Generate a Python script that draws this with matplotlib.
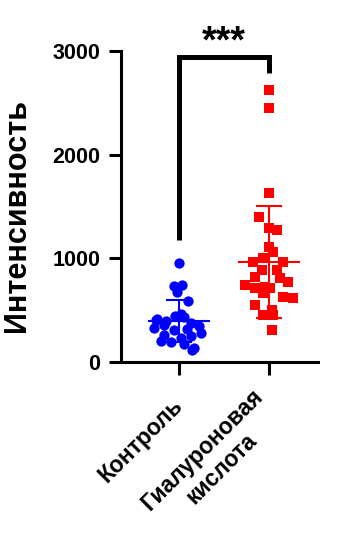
import numpy as np
import matplotlib.pyplot as plt

plt.rcParams['font.family'] = ['Liberation Sans', 'DejaVu Sans']
plt.rcParams['font.weight'] = 'bold'

# groups and tick labels
groups = ['Контроль', 'Гиалуроновая\nкислота']
ylabel = 'Интенсивность'

# values
control = [957, 730, 745, 680, 585, 420, 395, 440, 430, 460, 380, 350, 320,
           310, 360, 260, 230, 250, 280, 190, 170, 200, 140, 120, 330, 405]
control_jit = [0, -0.06, 0.03, -0.02, 0.10, -0.24, -0.14, -0.04, 0.05, 0.02,
               0.13, 0.22, 0.09, -0.06, -0.17, -0.17, 0.02, 0.13, 0.24, -0.09,
               0.06, -0.20, 0.17, 0.14, -0.28, -0.26]
hyaluronic = [2623, 2449, 1633, 1398, 1292, 1273, 1109, 1003, 1061, 964, 964,
              887, 887, 743, 820, 810, 723, 771, 714, 714, 627, 617, 665, 550,
              501, 453, 453, 309]
hyaluronic_jit = [0, 0, 0, -0.11, 0, 0.09, 0, -0.07, 0.04, -0.18, 0.16,
                  -0.08, 0.09, -0.27, -0.16, 0.12, -0.04, 0.21, 0.01, -0.16,
                  0.16, 0.27, -0.07, -0.16, 0.03, -0.07, 0.04, 0.03]

means = [395, 964]
sds = [200, 540]
colors = ['#0000ff', '#ff0000']
markers = ['o', 's']

fig = plt.figure(figsize=(3.42, 5.34), dpi=100)
ax = fig.add_axes([0.354, 0.322, 0.576, 0.5825])

for i, (vals, jit) in enumerate([(control, control_jit), (hyaluronic, hyaluronic_jit)]):
    xs = i + np.array(jit)
    ax.scatter(xs, vals, s=7.4 ** 2, marker=markers[i], color=colors[i],
               linewidths=0, zorder=3, clip_on=False)
    ax.errorbar(i, means[i], yerr=sds[i], color=colors[i], elinewidth=1.5,
                capsize=9.5, capthick=1.5, zorder=4)
    ax.plot([i - 0.33, i + 0.33], [means[i], means[i]], color=colors[i],
            lw=1.5, zorder=4)

# significance bracket
ax.plot([0, 0, 1, 1], [1180, 2940, 2940, 2790], color='black', lw=3.6,
        solid_capstyle='butt', solid_joinstyle='miter', clip_on=False, zorder=5)
ax.text(0.5, 2910, '***', ha='center', va='bottom', fontsize=27,
        fontweight='bold', clip_on=False)

ax.set_xlim(-0.644, 1.544)
ax.set_ylim(0, 3000)
ax.set_yticks([0, 1000, 2000, 3000])
ax.set_xticks([0, 1])
ax.set_xticklabels(groups, rotation=45, ha='right', va='center',
                   rotation_mode='anchor', multialignment='center')
ax.tick_params(axis='y', labelsize=15.5, width=2.2, length=9, pad=6)
ax.tick_params(axis='x', labelsize=16.5, width=2.2, length=9, pad=20)
for lab in ax.get_xticklabels() + ax.get_yticklabels():
    lab.set_fontweight('bold')

ax.set_ylabel(ylabel, fontsize=22, fontweight='bold')
ax.yaxis.set_label_coords(-0.45, 0.47)

for s in ['top', 'right']:
    ax.spines[s].set_visible(False)
for s in ['left', 'bottom']:
    ax.spines[s].set_linewidth(2.2)

fig.savefig('out.png', dpi=100)
